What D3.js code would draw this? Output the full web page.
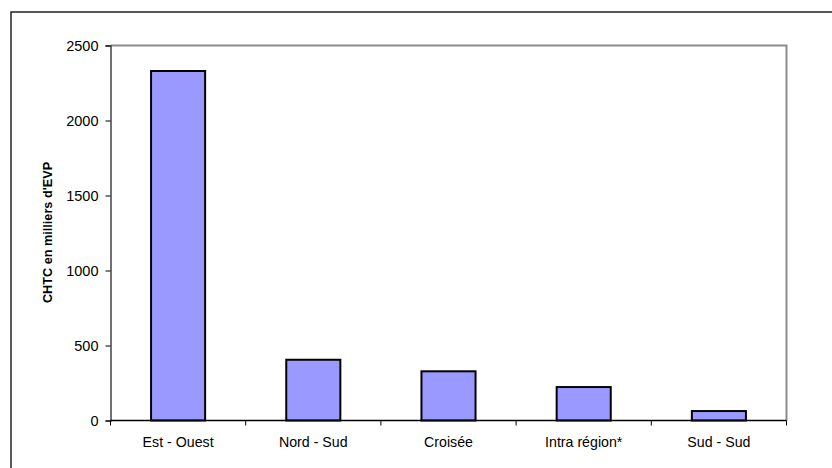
<!DOCTYPE html>
<html>
<head>
<meta charset="utf-8">
<script src="https://cdn.jsdelivr.net/npm/d3@7/dist/d3.min.js"></script>
<style>
  html, body { margin: 0; padding: 0; background: #fff; }
  svg { display: block; font-family: "Liberation Sans", Arial, sans-serif; }
</style>
</head>
<body>
<svg id="chart" width="832" height="468"></svg>
<script>
// Container traffic by route (thousands of TEU)
const categories = ["Est - Ouest", "Nord - Sud", "Croisée", "Intra région*", "Sud - Sud"];
const values = [2330, 405, 328, 223, 63];
const yTicks = [0, 500, 1000, 1500, 2000, 2500];
const yTitle = "CHTC en milliers d'EVP";

const svg = d3.select("#chart");
const W = 832, H = 468;
const plot = { left: 110.5, right: 786.5, top: 45.5, bottom: 420.5 };

// outer frame
svg.append("rect")
  .attr("x", 11).attr("y", 12)
  .attr("width", W + 10).attr("height", H + 10)
  .attr("fill", "none").attr("stroke", "#222").attr("stroke-width", 1.5);

const x = d3.scaleBand().domain(categories).range([plot.left, plot.right]).paddingInner(0).paddingOuter(0);
const y = d3.scaleLinear().domain([0, 2500]).range([plot.bottom, plot.top]);

// plot area top and right edges
svg.append("path")
  .attr("d", `M${plot.left},${plot.top}H${plot.right}V${plot.bottom}`)
  .attr("fill", "none").attr("stroke", "#8c8c8c").attr("stroke-width", 2);

// bars
const bw = x.bandwidth() * 0.4;
svg.append("g").selectAll("rect").data(categories).join("rect")
  .attr("x", (d) => x(d) + (x.bandwidth() - bw) / 2)
  .attr("y", (d, i) => y(values[i]))
  .attr("width", bw)
  .attr("height", (d, i) => y(0) - y(values[i]))
  .attr("fill", "#9999ff")
  .attr("stroke", "#000").attr("stroke-width", 2);

// y axis
const yAxis = d3.axisLeft(y).tickValues(yTicks).tickSize(5).tickPadding(7).tickFormat(d3.format("d"));
const gy = svg.append("g").attr("transform", `translate(${plot.left},0)`).call(yAxis);
gy.select(".domain").attr("stroke", "#444").attr("stroke-width", 1.5);
gy.selectAll(".tick line").attr("stroke", "#000");
gy.selectAll(".tick text").attr("font-size", 14.5).attr("fill", "#000")
  .attr("font-family", "'Liberation Sans', Arial, sans-serif");

// x axis with boundary ticks between categories
const gx = svg.append("g").attr("transform", `translate(0,${plot.bottom})`);
gx.append("line").attr("x1", plot.left).attr("x2", plot.right)
  .attr("stroke", "#000").attr("stroke-width", 1.5);
const edges = categories.map((c) => x(c)).concat([plot.right]);
gx.selectAll(".edge").data(edges).join("line")
  .attr("class", "edge")
  .attr("x1", (d) => d).attr("x2", (d) => d)
  .attr("y1", 0).attr("y2", 5)
  .attr("stroke", "#000");
gx.selectAll(".lab").data(categories).join("text")
  .attr("class", "lab")
  .attr("x", (d) => x(d) + x.bandwidth() / 2)
  .attr("y", 26)
  .attr("text-anchor", "middle")
  .attr("font-size", 14.2)
  .text((d) => d);

// y title
svg.append("text")
  .attr("transform", `translate(52,232.5) rotate(-90)`)
  .attr("text-anchor", "middle")
  .attr("font-size", 12.7)
  .attr("font-weight", "bold")
  .text(yTitle);
</script>
</body>
</html>
